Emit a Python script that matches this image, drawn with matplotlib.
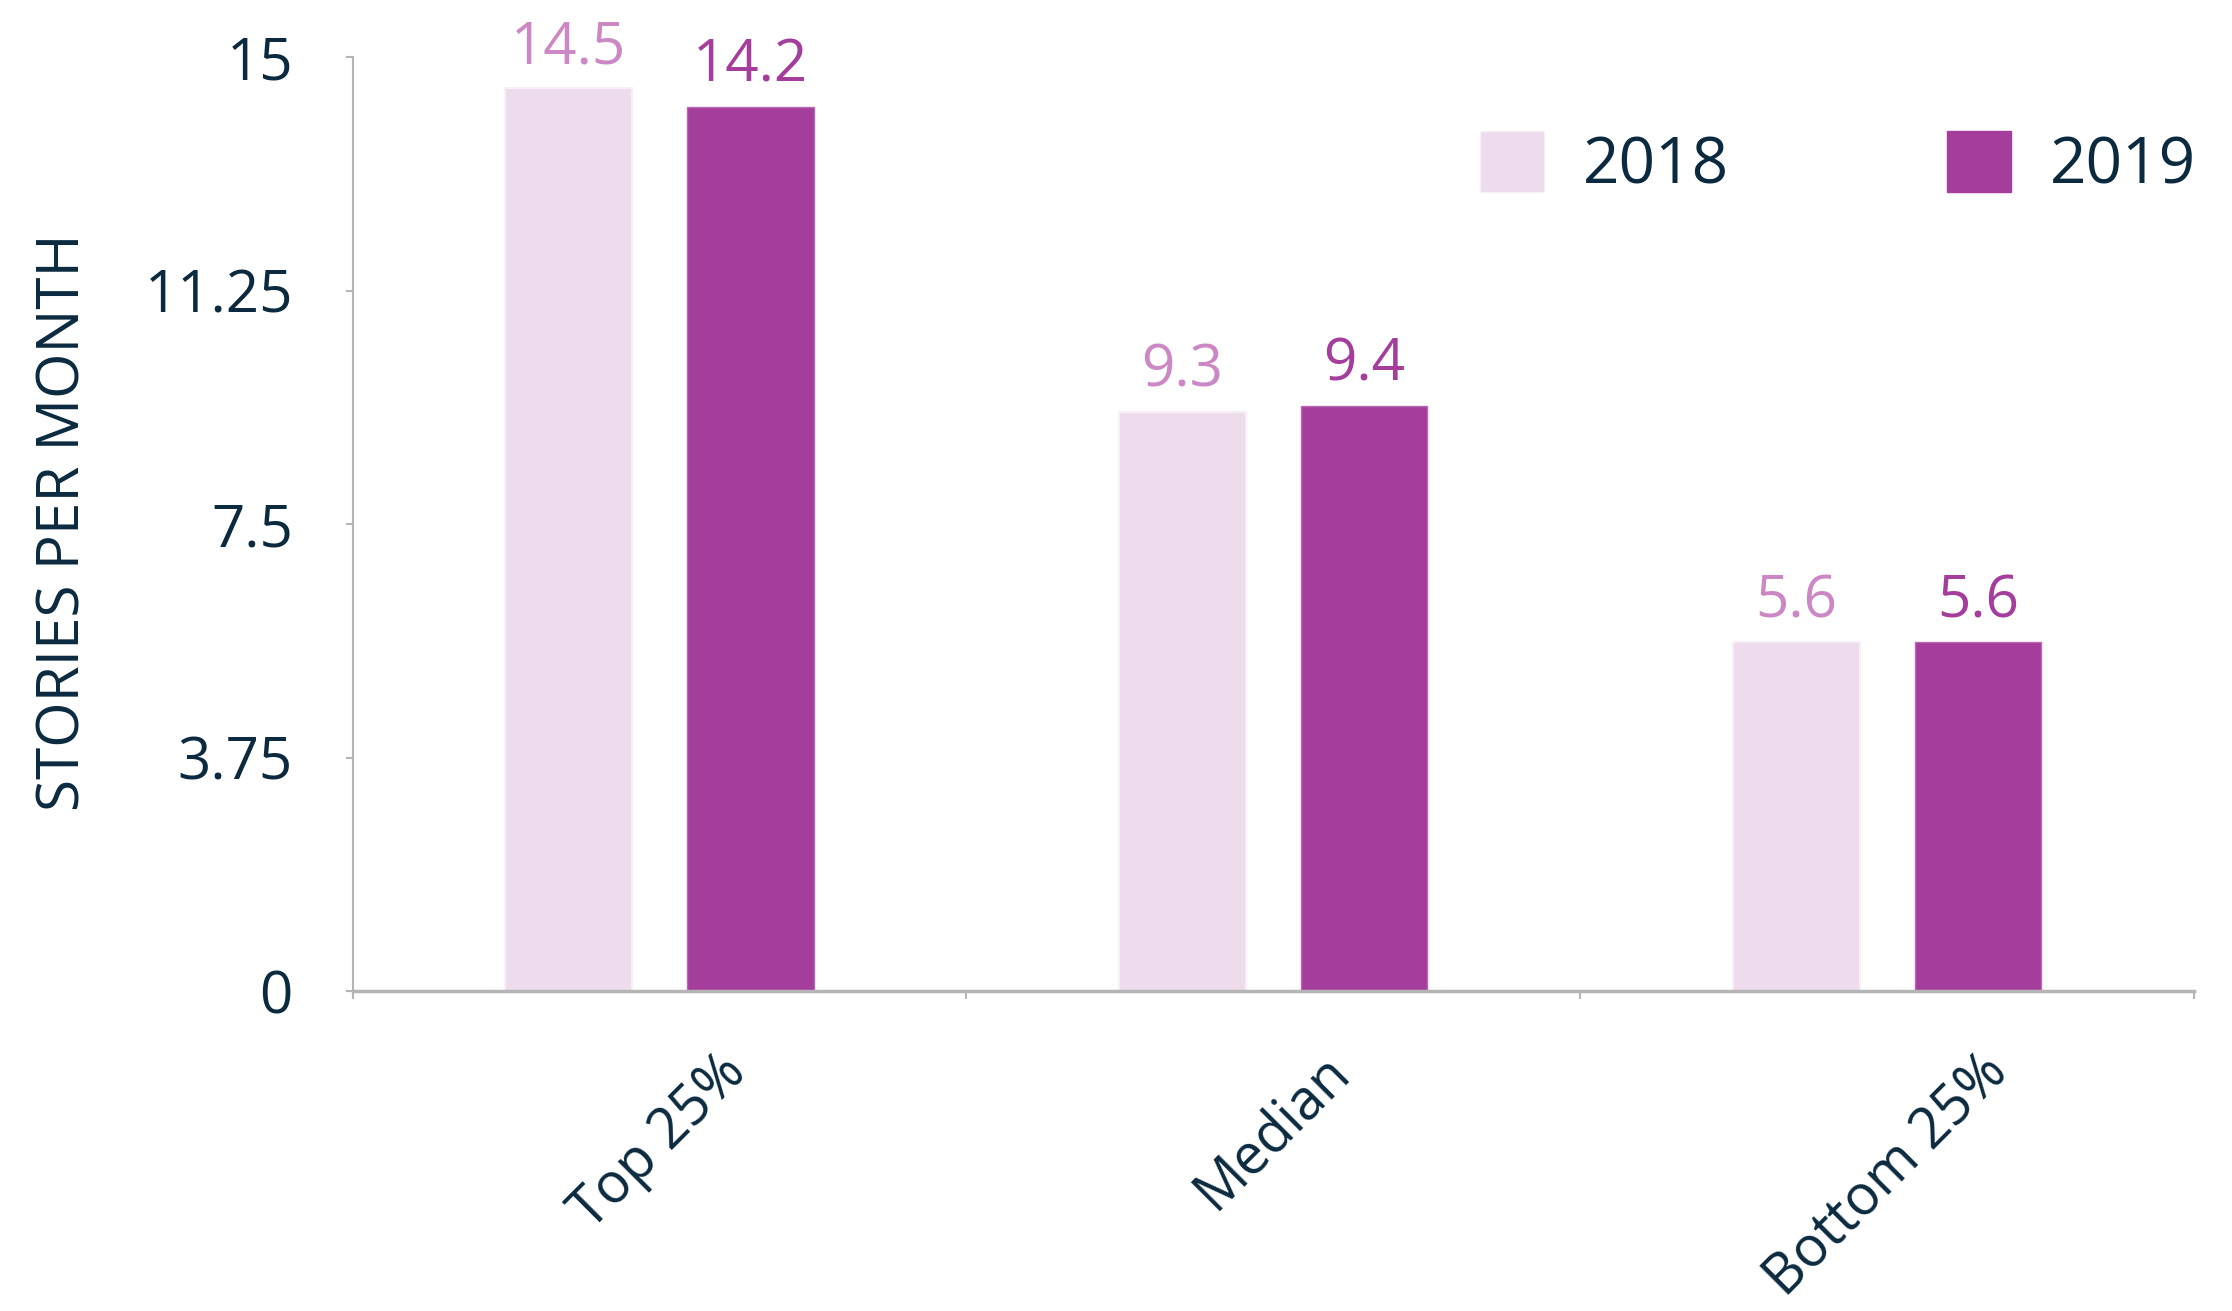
import numpy as np
import matplotlib
matplotlib.use("Agg")
import matplotlib.pyplot as plt
from matplotlib.patches import Patch

categories = ["Top 25%", "Median", "Bottom 25%"]
years = ["2018", "2019"]
values_2018 = [14.5, 9.3, 5.6]
values_2019 = [14.2, 9.4, 5.6]
y_ticks = [0, 3.75, 7.5, 11.25, 15]
y_tick_labels = ["0", "3.75", "7.5", "11.25", "15"]

TEXT = "#0b2a3f"
LIGHT = "#eedbec"
DARK = "#a43d9b"
LIGHT_LABEL = "#cc88c4"
AXIS = "#b5b5b5"

plt.rcParams["font.family"] = ["Open Sans", "DejaVu Sans"]

fig = plt.figure(figsize=(22.32, 13.11), dpi=100)
ax = fig.add_axes([0.158, 0.244, 0.825, 0.7125])

x = np.arange(len(categories))
width = 0.206
offset = 0.148

bars1 = ax.bar(x - offset, values_2018, width, color=LIGHT, edgecolor="#f7f0f6", linewidth=1.5)
bars2 = ax.bar(x + offset, values_2019, width, color=DARK, edgecolor="#b96bb1", linewidth=1.0)

for bars, vals, col in [(bars1, values_2018, LIGHT_LABEL), (bars2, values_2019, DARK)]:
    for b, v in zip(bars, vals):
        ax.annotate(f"{v:.1f}", (b.get_x() + b.get_width() / 2, v),
                    xytext=(0, 8), textcoords="offset points",
                    ha="center", va="bottom", fontsize=42, color=col)

ax.set_xlim(-0.5, 2.5)
ax.set_ylim(0, 15)

ax.set_yticks(y_ticks)
ax.set_yticklabels(y_tick_labels)
ax.tick_params(axis="y", length=5, width=1.5, color=AXIS, pad=38,
               labelsize=42, labelcolor=TEXT)

ax.set_xticks(x)
ax.set_xticklabels(categories, rotation=45, ha="center")
ax.tick_params(axis="x", which="major", length=0, pad=38, labelsize=40, labelcolor=TEXT)
ax.set_xticks([-0.5, 0.5, 1.5, 2.5], minor=True)
ax.tick_params(axis="x", which="minor", length=6, width=1.5, color=AXIS)

for s in ["top", "right"]:
    ax.spines[s].set_visible(False)
ax.spines["left"].set_color(AXIS)
ax.spines["left"].set_linewidth(1.5)
ax.spines["bottom"].set_color(AXIS)
ax.spines["bottom"].set_linewidth(2.5)

fig.text(0.029, 0.6015, "STORIES PER MONTH", rotation=90, ha="center", va="center",
         fontsize=42, color=TEXT)

handles = [Patch(facecolor=LIGHT, edgecolor="#f7f0f6"), Patch(facecolor=DARK, edgecolor=DARK)]
fig.legend(handles, years, loc="upper left", bbox_to_anchor=(0.663, 0.9), ncol=2,
           frameon=False, fontsize=46, labelcolor=TEXT, handlelength=1.0, handleheight=1.1,
           handletextpad=0.62, columnspacing=3.4, borderpad=0, borderaxespad=0)

fig.savefig("out.png", dpi=100, facecolor="white")
